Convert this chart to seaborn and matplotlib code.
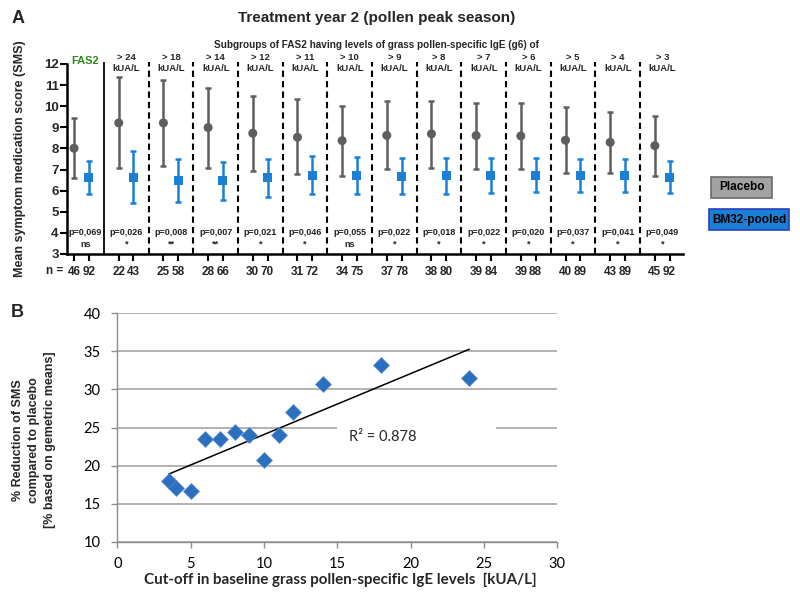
import numpy as np
import pandas as pd
import matplotlib
matplotlib.use("Agg")
import matplotlib.pyplot as plt
from matplotlib.patches import Rectangle
import seaborn as sns

# ---- Panel A data: treatment year 2, SMS by IgE subgroup ----
groups = ["FAS2", "> 24", "> 18", "> 14", "> 12", "> 11", "> 10", "> 9",
          "> 8", "> 7", "> 6", "> 5", "> 4", "> 3"]
n_placebo = [46, 22, 25, 28, 30, 31, 34, 37, 38, 39, 39, 40, 43, 45]
n_bm32 = [92, 43, 58, 66, 70, 72, 75, 78, 80, 84, 88, 89, 89, 92]
p_values = ["p=0,069", "p=0,026", "p=0,008", "p=0,007", "p=0,021", "p=0,046", "p=0,055",
            "p=0,022", "p=0,018", "p=0,022", "p=0,020", "p=0,037", "p=0,041", "p=0,049"]
signif = ["ns", "*", "**", "**", "*", "*", "ns", "*", "*", "*", "*", "*", "*", "*"]

placebo_mean = [8.01, 9.21, 9.21, 8.99, 8.72, 8.53, 8.37, 8.62, 8.69, 8.61, 8.59, 8.39, 8.29, 8.13]
placebo_low = [6.60, 7.06, 7.15, 7.07, 6.91, 6.79, 6.71, 7.01, 7.07, 7.04, 7.04, 6.83, 6.85, 6.71]
placebo_high = [9.43, 11.37, 11.26, 10.86, 10.49, 10.32, 10.03, 10.26, 10.27, 10.15, 10.15, 9.96, 9.75, 9.53]
bm_mean = [6.63, 6.64, 6.48, 6.47, 6.61, 6.74, 6.72, 6.68, 6.72, 6.74, 6.74, 6.72, 6.72, 6.64]
bm_low = [5.85, 5.42, 5.47, 5.57, 5.69, 5.82, 5.84, 5.82, 5.85, 5.91, 5.95, 5.95, 5.95, 5.87]
bm_high = [7.40, 7.86, 7.48, 7.36, 7.52, 7.66, 7.59, 7.55, 7.56, 7.56, 7.53, 7.52, 7.52, 7.40]

# ---- Panel B data: % reduction vs cut-off ----
cutoff = [3.5, 4, 5, 6, 7, 8, 9, 10, 11, 12, 14, 18, 24]
reduction = [18.0, 17.0, 16.7, 23.5, 23.5, 24.4, 24.0, 20.7, 24.0, 27.0, 30.7, 33.2, 31.5]
r2_text = "R\u00b2 = 0.878"

GRAY = "#5e5e5e"
BLUE = "#1b7fd4"

sns.set_theme(style="white")
plt.rcParams["font.family"] = ["Liberation Sans", "DejaVu Sans"]

W, H = 800, 610
fig = plt.figure(figsize=(8, 6.1), dpi=100)


def fx(px):
    return px / W


def fy(py):
    return 1 - py / H


# long-form table for panel A
idx = np.arange(len(groups))
df = pd.concat([
    pd.DataFrame({"x": idx + 0.33, "mean": placebo_mean, "lo": placebo_low,
                  "hi": placebo_high, "n": n_placebo, "arm": "Placebo"}),
    pd.DataFrame({"x": idx + 0.66, "mean": bm_mean, "lo": bm_low,
                  "hi": bm_high, "n": n_bm32, "arm": "BM32-pooled"}),
], ignore_index=True)

XMIN, XMAX = 0.172, 13.96

# ================= Panel A =================
axA = fig.add_axes([fx(67), fy(254), fx(683 - 67), (254 - 64) / H])
colors = {"Placebo": GRAY, "BM32-pooled": BLUE}
for arm, sub in df.groupby("arm"):
    axA.errorbar(sub["x"], sub["mean"],
                 yerr=[sub["mean"] - sub["lo"], sub["hi"] - sub["mean"]],
                 fmt="none", ecolor=colors[arm], elinewidth=1.8,
                 capsize=2.3, capthick=1.8, zorder=2)
sns.scatterplot(data=df, x="x", y="mean", hue="arm", style="arm",
                markers={"Placebo": "o", "BM32-pooled": "s"},
                palette=colors, s=42, edgecolor="none", legend=False,
                ax=axA, zorder=3)

axA.set_xlim(XMIN, XMAX)
axA.set_ylim(3, 12)
axA.set_xlabel("")
axA.set_ylabel("")
for s in ["top", "right"]:
    axA.spines[s].set_visible(False)
for s in ["left", "bottom"]:
    axA.spines[s].set_color("black")
    axA.spines[s].set_linewidth(1.8)

axA.set_yticks(range(3, 13))
axA.set_yticklabels([str(v) for v in range(3, 13)], fontsize=9.5, fontweight="bold")
tick_df = df.sort_values("x")
axA.set_xticks(tick_df["x"])
axA.set_xticklabels(tick_df["n"].astype(str), fontsize=8.5, fontweight="bold")
axA.tick_params(axis="both", direction="out", length=5, width=1.5,
                color="black", left=True, bottom=True)
axA.tick_params(axis="y", pad=1)
axA.tick_params(axis="x", pad=4)

# group dividers
axA.vlines(1, 3, 12.1, color="black", lw=1.3, clip_on=False)
axA.vlines(idx[2:], 3, 12.1, color="black", lw=1.5, linestyles=(0, (3, 2)), clip_on=False)

# group headers and p-values (first group only spans the visible part)
centers = idx + 0.5
centers = centers.astype(float)
centers[0] = (XMIN + 1) / 2
axA.text(centers[0], 12.16, groups[0], ha="center", va="center", fontsize=8,
         fontweight="bold", color="#2e8b1e")
for k in idx[1:]:
    axA.text(centers[k], 12.03, groups[k] + "\nkUA/L", ha="center", va="center",
             fontsize=6.8, fontweight="bold", linespacing=1.25)
for k in idx:
    axA.text(centers[k], 4.0, p_values[k], ha="center", va="center",
             fontsize=6.5, fontweight="bold", color="#222222")
    axA.text(centers[k], 3.45, signif[k], ha="center", va="center",
             fontsize=6.5, fontweight="bold", color="#222222")

fig.text(fx(55), fy(271), "n =", ha="center", va="center", fontsize=8.5, fontweight="bold")
fig.text(fx(20), fy(159), "Mean symptom medication score (SMS)", rotation=90,
         ha="center", va="center", fontsize=9, fontweight="bold")
fig.text(fx(377), fy(18), "Treatment year 2 (pollen peak season)", ha="center",
         va="center", fontsize=11, fontweight="bold")
fig.text(fx(376), fy(45), "Subgroups of FAS2 having levels of grass pollen-specific IgE (g6) of",
         ha="center", va="center", fontsize=7.2, fontweight="bold")
fig.text(fx(18), fy(18.5), "A", ha="center", va="center", fontsize=13, fontweight="bold")
fig.text(fx(17), fy(313), "B", ha="center", va="center", fontsize=13, fontweight="bold")

# legend boxes
for label, (x0, y0, x1, y1), face, edge in [
        ("Placebo", (711, 177, 772, 198), "#a2a2a4", "#6b6b6b"),
        ("BM32-pooled", (709, 209, 789, 230), BLUE, "#2a3fc0")]:
    fig.add_artist(Rectangle((fx(x0), fy(y1)), fx(x1 - x0), (y1 - y0) / H,
                             transform=fig.transFigure, facecolor=face,
                             edgecolor=edge, lw=1.2))
    fig.text(fx((x0 + x1) / 2), fy((y0 + y1) / 2), label, ha="center", va="center",
             fontsize=8.5, fontweight="bold", color="black")

# ================= Panel B =================
axB = fig.add_axes([fx(117.3), fy(541.7), fx(557.3 - 117.3), (541.7 - 313.3) / H])
axB.set_axisbelow(True)
axB.grid(axis="y", color="#a6a6a6", lw=1.2)
axB.grid(axis="x", visible=False)
sns.regplot(x=cutoff, y=reduction, scatter=False, ci=None, truncate=True,
            line_kws={"color": "black", "lw": 1.1}, ax=axB)
sns.scatterplot(x=cutoff, y=reduction, marker="D", s=66, color="#2c6fbf",
                edgecolor="#5b93d6", linewidth=0.5, ax=axB, zorder=3)
axB.add_patch(Rectangle((15, 24.4), 10.8, 1.2, facecolor="white",
                        edgecolor="none", zorder=1))
axB.text(18.1, 23.8, r2_text, ha="center", va="center", fontsize=10.5,
         family=["Lato", "DejaVu Sans"], zorder=4)

axB.set_xlim(0, 30)
axB.set_ylim(10, 40)
axB.set_xticks(range(0, 31, 5))
axB.set_yticks(range(10, 41, 5))
for s in ["top", "right"]:
    axB.spines[s].set_visible(False)
for s in ["left", "bottom"]:
    axB.spines[s].set_color("#8c8c8c")
    axB.spines[s].set_linewidth(1.0)
axB.tick_params(axis="both", direction="out", length=4, width=1, color="#8c8c8c",
                labelsize=10.5, labelcolor="black", left=True, bottom=True)
axB.tick_params(axis="y", pad=8)
axB.tick_params(axis="x", pad=7)
for lbl in axB.get_xticklabels() + axB.get_yticklabels():
    lbl.set_family(["Lato", "DejaVu Sans"])

fig.text(fx(340), fy(580), "Cut-off in baseline grass pollen-specific IgE levels  [kUA/L]",
         ha="center", va="center", fontsize=10.9, fontweight="bold",
         family=["Lato", "DejaVu Sans"])
fig.text(fx(34), fy(440), "% Reduction of SMS\ncompared to placebo\n[% based on gemetric means]",
         rotation=90, ha="center", va="center", multialignment="center",
         fontsize=9, fontweight="bold", linespacing=1.45)

fig.savefig("out.png", dpi=100)
